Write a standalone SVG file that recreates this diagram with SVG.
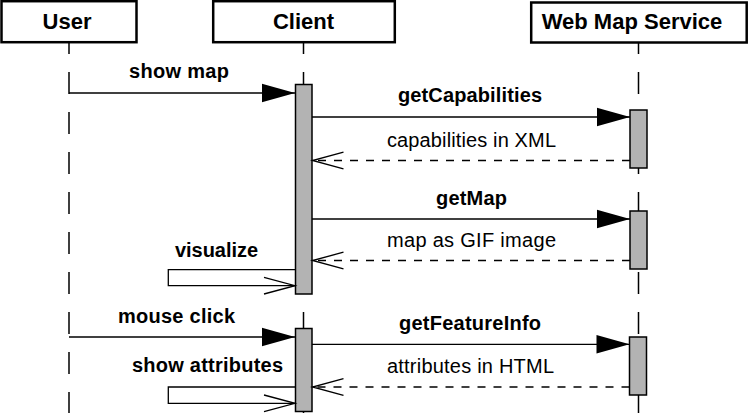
<svg xmlns="http://www.w3.org/2000/svg" width="749" height="413" viewBox="0 0 749 413">
<style>
.box{fill:#fff;stroke:#000;stroke-width:2.5}
.title{font-family:"Liberation Sans",Arial,sans-serif;font-weight:bold;font-size:22px;text-anchor:middle;fill:#000}
.lbl{font-family:"Liberation Sans",Arial,sans-serif;font-weight:bold;font-size:20px;fill:#000}
.ret{font-family:"Liberation Sans",Arial,sans-serif;font-size:20px;fill:#000}
.life{stroke:#000;stroke-width:1.5;stroke-dasharray:22 18;stroke-dashoffset:11;fill:none}
.bar{fill:#b3b3b3;stroke:#000;stroke-width:1.5}
.msg{stroke:#000;stroke-width:1.3;fill:none}
.call{marker-end:url(#filled)}
.back{stroke-dasharray:8 8;marker-end:url(#open)}
.self{marker-end:url(#open)}
</style>
<defs>
<marker id="filled" markerUnits="userSpaceOnUse" markerWidth="34" markerHeight="20" refX="33" refY="9.3" orient="auto" overflow="visible">
<path d="M0,0 L33,9.3 L0,18.6 Z" fill="#000"/>
</marker>
<marker id="open" markerUnits="userSpaceOnUse" markerWidth="32" markerHeight="18" refX="31" refY="8.3" orient="auto" overflow="visible">
<path d="M0,0 L31,8.3 L0,16.6" fill="none" stroke="#000" stroke-width="1.3"/>
</marker>
</defs>
<g id="lifelines">
<line class="life" x1="69" y1="43" x2="69" y2="413"/>
<line class="life" x1="303.5" y1="43" x2="303.5" y2="413"/>
<line class="life" x1="638.5" y1="43" x2="638.5" y2="413"/>
</g>
<g id="user">
<rect class="box" x="1.5" y="1.2" width="135" height="41"/>
<text class="title" x="67" y="29">User</text>
</g>
<g id="client">
<rect class="box" x="213.2" y="1.2" width="181.6" height="41"/>
<text class="title" x="303.5" y="29">Client</text>
<rect class="bar" x="295.5" y="84.5" width="16.5" height="209.5"/>
<rect class="bar" x="295.5" y="328.5" width="16.5" height="83"/>
</g>
<g id="wms">
<rect class="box" x="531.2" y="2.5" width="215.5" height="40"/>
<text class="title" x="632" y="29">Web Map Service</text>
<rect class="bar" x="630" y="110" width="17" height="58"/>
<rect class="bar" x="630" y="211" width="17" height="58"/>
<rect class="bar" x="629.5" y="337" width="17" height="58"/>
</g>
<g id="connectors">
<line class="msg call" x1="69" y1="93" x2="295" y2="93"/>
<line class="msg call" x1="312" y1="117" x2="630" y2="117"/>
<line class="msg back" x1="630" y1="160.5" x2="312.5" y2="160.5"/>
<line class="msg call" x1="312" y1="219" x2="630" y2="219"/>
<line class="msg back" x1="630" y1="260.5" x2="312.5" y2="260.5"/>
<path class="msg self" d="M295.5,269.7 H168.3 V285.7 H295"/>
<line class="msg call" x1="69" y1="337" x2="295" y2="337"/>
<line class="msg call" x1="312" y1="344.3" x2="629.5" y2="344.3"/>
<line class="msg back" x1="629.5" y1="387" x2="312.5" y2="387"/>
<path class="msg self" d="M295.5,387 H168.3 V403.3 H295"/>
</g>
<g id="labels">
<text class="lbl" x="129" y="78" textLength="100">show map</text>
<text class="lbl" x="398" y="102" textLength="144">getCapabilities</text>
<text class="ret" x="387" y="147" textLength="169">capabilities in XML</text>
<text class="lbl" x="436" y="205" textLength="71">getMap</text>
<text class="ret" x="387" y="247" textLength="169">map as GIF image</text>
<text class="lbl" x="175" y="257" textLength="83">visualize</text>
<text class="lbl" x="118" y="323" textLength="117">mouse click</text>
<text class="lbl" x="399" y="330" textLength="142">getFeatureInfo</text>
<text class="ret" x="387" y="373" textLength="167">attributes in HTML</text>
<text class="lbl" x="132" y="372" textLength="151">show attributes</text>
</g>
</svg>
